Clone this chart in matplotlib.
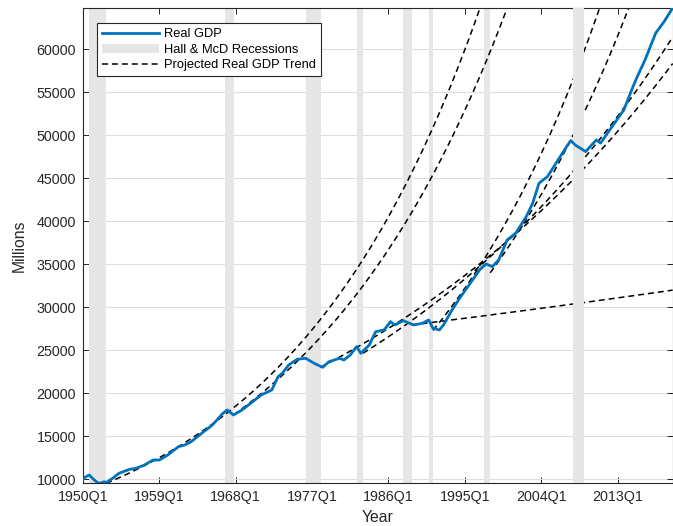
import numpy as np
import matplotlib
matplotlib.use("Agg")
import matplotlib.pyplot as plt

plt.rcParams['font.family'] = ['Liberation Sans', 'DejaVu Sans']

# quarters counted from 1950Q1
gdp_quarter = [0, 1, 3, 5, 7, 8, 10, 11, 14, 17, 22, 25, 29, 33, 36, 40, 45, 48, 51, 56,
               61, 66, 68, 71, 75, 80, 84, 89, 92, 94, 97, 101, 105, 109, 113, 116, 121, 123,
               126, 129, 131, 135, 138, 142, 145, 147, 151, 156, 160, 163, 165, 168, 170,
               174, 178, 182, 187, 190, 193, 196, 200, 204, 209, 212, 215, 219, 222, 225,
               228, 230, 232, 237, 242, 244, 250, 255, 259, 261, 265, 270, 274, 278]
gdp_value = [9950, 10250, 10500, 10000, 9600, 9540, 9720, 9620, 10120, 10700, 11160, 11280,
             11660, 12240, 12240, 12830, 13790, 13990, 14370, 15350, 16310, 17670, 18060,
             17480, 18060, 19020, 19800, 20380, 21930, 22330, 23290, 23950, 24070, 23490,
             23020, 23670, 24070, 23870, 24450, 25420, 24650, 25620, 27160, 27360, 28330,
             27940, 28440, 27940, 28140, 28520, 27560, 27360, 27940, 29690, 31200, 32590,
             34340, 35030, 34720, 35500, 37830, 38600, 40540, 42090, 44420, 45190, 46350,
             47510, 48670, 49370, 48870, 48090, 49450, 49070, 51200, 52940, 55460, 56630,
             58760, 61860, 63210, 64780]

rec_start = [3, 67, 105, 129, 151, 163, 189, 231]
rec_end = [11, 71, 112, 132, 155, 165, 192, 236]

# projected trends: start quarter, level at start, annual growth rate
trend_start = [11, 71, 112, 132, 155, 165, 192]
trend_level = [9535, 17490, 23020, 24650, 27940, 27300, 34000]
trend_growth = [0.0435, 0.0406, 0.0224, 0.025, 0.0044, 0.044, 0.0395]

tick_pos = [0, 36, 72, 108, 144, 180, 216, 252]
tick_lab = ['1950Q1', '1959Q1', '1968Q1', '1977Q1', '1986Q1', '1995Q1', '2004Q1', '2013Q1']
last_q = 278

fig = plt.figure(figsize=(6.73, 5.26), dpi=100)
ax = fig.add_axes([0.1232, 0.0812, 0.8763, 0.9036])
dark = '#262626'

for i, (a, b) in enumerate(zip(rec_start, rec_end)):
    # the last recession patch sits over the trend lines, as in the original
    z = 2.6 if i == len(rec_start) - 1 else 1.5
    ax.axvspan(a, b, color='#e6e6e6', lw=0, zorder=z,
               label='Hall & McD Recessions' if i == 0 else None)

for i in range(len(trend_start)):
    q = np.arange(trend_start[i], last_q + 1)
    y = trend_level[i] * np.exp(trend_growth[i] * (q - trend_start[i]) / 4.0)
    ax.plot(q, y, color='k', lw=1.1, linestyle=(0, (3.9, 2.6)), zorder=2.5,
            label='Projected Real GDP Trend' if i == 0 else None)

ax.plot(gdp_quarter, gdp_value, color='#0072BD', lw=2.0, zorder=3, label='Real GDP')

ax.set_xlim(0, last_q)
ax.set_ylim(min(gdp_value), max(gdp_value))
ax.set_xticks(tick_pos)
ax.set_xticklabels(tick_lab)
ax.set_yticks(np.arange(10000, 60001, 5000))
ax.yaxis.grid(True, color='#dedede', lw=0.8)
ax.set_axisbelow(True)
ax.tick_params(direction='in', length=4, width=0.7, colors=dark, labelsize=10.3,
               top=True, right=True, pad=5)
for s in ax.spines.values():
    s.set_color(dark)
    s.set_linewidth(0.8)
ax.set_xlabel('Year', fontsize=11.3, color=dark, labelpad=4)
ax.set_ylabel('Millions', fontsize=11.3, color=dark, labelpad=7)

h, l = ax.get_legend_handles_labels()
order = [l.index('Real GDP'), l.index('Hall & McD Recessions'), l.index('Projected Real GDP Trend')]
leg = ax.legend([h[k] for k in order], [l[k] for k in order], loc='upper left',
                bbox_to_anchor=(0.0244, 0.968), borderaxespad=0, fontsize=9.3,
                handlelength=4.4, handletextpad=0.4, labelspacing=0.28, borderpad=0.38,
                fancybox=False, framealpha=1)
leg.set_zorder(5)
leg.get_frame().set_edgecolor(dark)
leg.get_frame().set_linewidth(0.8)

fig.savefig('out.png', dpi=100)
